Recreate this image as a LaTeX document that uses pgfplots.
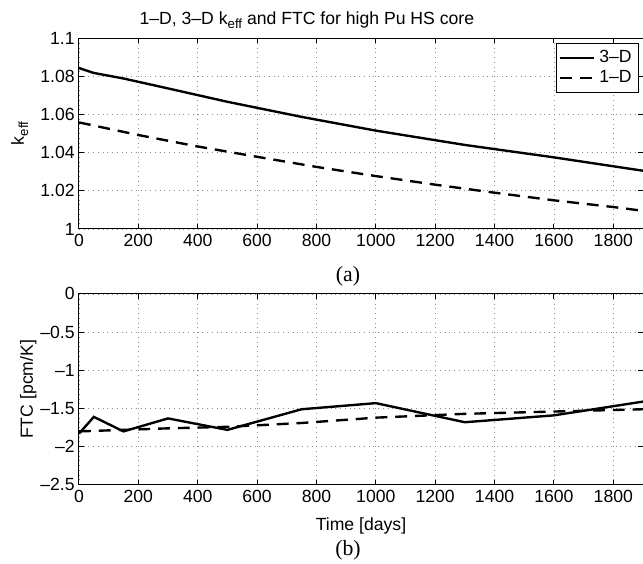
\documentclass[border=0pt]{standalone}
\usepackage{fontspec}
\setmainfont{Liberation Sans}
\newfontfamily\capfont{Liberation Serif}
\usepackage{pgfplots}
\pgfplotsset{compat=1.18}

\pgfplotsset{
  burnup/.style={
    scale only axis, width=285pt, height=96.5pt,
    xmin=0, xmax=1900, xtick={0,200,...,1800},
    clip mode=individual,
    tick align=inside, tick pos=both, major tick length=2.5pt,
    grid=major, major grid style={dotted, gray!90, line width=0.4pt},
    axis line style={line width=0.5pt},
    every tick/.style={black, line width=0.5pt},
    tick label style={font=\fontsize{8.9}{10}\selectfont},
    label style={font=\fontsize{8.9}{10}\selectfont},
    xticklabel style={inner sep=2.5pt},
    yticklabel style={inner sep=2pt},
    /pgf/number format/assume math mode=true,
    /pgf/number format/1000 sep={},
  },
  threeD/.style={black, line width=1.2pt},
  oneD/.style={black, line width=1.2pt, dash pattern=on 6pt off 4pt},
}

\begin{document}
\begin{tikzpicture}
% (a) k_eff over burnup
\begin{axis}[burnup, name=top,
    ymin=1, ymax=1.1,
    ytick={1,1.02,1.04,1.06,1.08,1.1},
    yticklabels={1,1.02,1.04,1.06,1.08,1.1},
    ylabel={k\raisebox{-0.45ex}{\fontsize{6.7}{8}\selectfont eff}},
    ylabel style={at={(axis description cs:-0.105,0.5)}, anchor=center},
    legend style={at={(rel axis cs:0.993,0.975)}, anchor=north east,
        draw=black, line width=0.5pt, font=\fontsize{8.9}{10}\selectfont,
        inner sep=1.5pt, row sep=-1.5pt},
    legend cell align=right,
]
\addplot[threeD] coordinates {
    (0,1.0843) (50,1.0817) (150,1.0788) (300,1.0736) (500,1.0666)
    (750,1.0587) (1000,1.0515) (1300,1.0440) (1600,1.0375) (1900,1.0305)
};
\addplot[oneD] coordinates {
    (0,1.0558) (200,1.0492) (400,1.0432) (600,1.0378) (800,1.0325)
    (1000,1.0277) (1200,1.0232) (1400,1.0190) (1600,1.0150) (1800,1.0115)
    (1900,1.0095)
};
\legend{3–D, 1–D}
\node[font=\fontsize{8.9}{10}\selectfont] at (rel axis cs:0.404,1) [yshift=9pt]
    {1–D, 3–D k\raisebox{-0.45ex}{\fontsize{6.7}{8}\selectfont eff} and FTC for high Pu HS core};
\node[font=\capfont\fontsize{11}{12}\selectfont] at (rel axis cs:0.477,0) [yshift=-23.7pt] {(a)};
\end{axis}

% (b) fuel temperature coefficient
\begin{axis}[burnup, name=bot,
    at={(top.south west)}, anchor=north west, yshift=-32.8pt,
    ymin=-2.5, ymax=0,
    ytick={-2.5,-2,-1.5,-1,-0.5,0},
    yticklabels={–2.5,–2,–1.5,–1,–0.5,0},
    ylabel={FTC [pcm/K]},
    ylabel style={at={(axis description cs:-0.09,0.5)}, anchor=center},
    xlabel={Time [days]},
    xlabel style={at={(axis description cs:0.5,0)}, anchor=center, yshift=-21pt},
]
\addplot[threeD] coordinates {
    (0,-1.83) (50,-1.61) (150,-1.80) (300,-1.63) (500,-1.78)
    (750,-1.51) (1000,-1.43) (1300,-1.68) (1600,-1.59) (1900,-1.41)
};
\addplot[oneD] coordinates {
    (0,-1.80) (150,-1.78) (300,-1.76) (500,-1.74) (750,-1.69)
    (1000,-1.62) (1300,-1.57) (1600,-1.54) (1900,-1.51)
};
\node[font=\capfont\fontsize{11}{12}\selectfont] at (rel axis cs:0.477,0) [yshift=-33pt] {(b)};
\end{axis}

\pgfresetboundingbox
\path[use as bounding box] ([xshift=-39.9pt, yshift=19.2pt]top.north west)
    rectangle ([yshift=-39.5pt]bot.south east);
\end{tikzpicture}
\end{document}
